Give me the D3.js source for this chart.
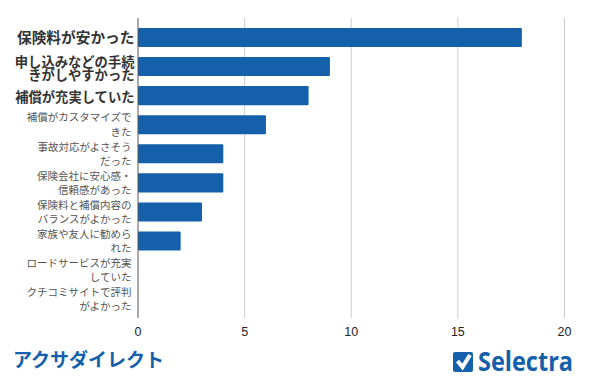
<!DOCTYPE html>
<html>
<head>
<meta charset="utf-8">
<script src="https://cdn.jsdelivr.net/npm/d3@7"></script>
<style>
  html, body { margin: 0; padding: 0; background: #fff; }
  text { font-family: "Liberation Sans", "Noto Sans CJK JP", sans-serif; }
  .tick-label { font-size: 12.5px; fill: #222; }
  .strong { font-weight: 700; fill: #333; font-size: 13.3px; }
  .biggest { font-size: 14.7px; }
  .normal { fill: #555; font-size: 10.5px; }
</style>
</head>
<body>
<div id="wrapper"></div>
<script>
// 1. Data
const categoryLines = [
  ["保険料が安かった"],
  ["申し込みなどの手続", "きがしやすかった"],
  ["補償が充実していた"],
  ["補償がカスタマイズで", "きた"],
  ["事故対応がよさそう", "だった"],
  ["保険会社に安心感・", "信頼感があった"],
  ["保険料と補償内容の", "バランスがよかった"],
  ["家族や友人に勧めら", "れた"],
  ["ロードサービスが充実", "していた"],
  ["クチコミサイトで評判", "がよかった"]
]
const counts = [18, 9, 8, 6, 4, 4, 3, 2, 0, 0]
const xTicks = [0, 5, 10, 15, 20]
const strongCount = 3
const title = "アクサダイレクト"
const brand = "Selectra"

// 2. Dimensions
const width = 590
const height = 380
const blue = "#1560ab"

const svg = d3.select("#wrapper").append("svg")
  .attr("width", width)
  .attr("height", height)
  .style("display", "block")

// 3. Scales
const xScale = d3.scaleLinear().domain([0, 20]).range([138, 564.5])
const yScale = d3.scaleBand()
  .domain(d3.range(categoryLines.length))
  .range([23, 313.7])
  .paddingInner(0.345)
  .paddingOuter(0.17)

// 4. Grid
svg.append("g").selectAll("line")
  .data(xTicks.slice(1))
  .join("line")
    .attr("x1", d => xScale(d))
    .attr("x2", d => xScale(d))
    .attr("y1", 18)
    .attr("y2", 318)
    .attr("stroke", "#cccccc")
    .attr("stroke-width", 1)

// 5. Bars
svg.append("g").selectAll("rect")
  .data(counts)
  .join("rect")
    .attr("x", xScale(0))
    .attr("y", (d, i) => yScale(i))
    .attr("width", d => xScale(d) - xScale(0))
    .attr("height", yScale.bandwidth())
    .attr("rx", d => d > 0 ? 1 : 0)
    .attr("fill", blue)

// baseline
svg.append("line")
  .attr("x1", xScale(0))
  .attr("x2", xScale(0))
  .attr("y1", 18)
  .attr("y2", 318)
  .attr("stroke", "#555")
  .attr("stroke-width", 1)

// 6. Peripherals
svg.append("g").selectAll("text")
  .data(xTicks)
  .join("text")
    .attr("class", "tick-label")
    .attr("x", d => xScale(d))
    .attr("y", 336)
    .attr("text-anchor", "middle")
    .text(d => d)

const labels = svg.append("g").selectAll("g")
  .data(categoryLines)
  .join("g")
    .attr("transform", (d, i) => `translate(${i < strongCount ? 134.5 : 131.5},${yScale(i) + yScale.bandwidth() / 2})`)

labels.selectAll("text")
  .data((d, i) => d.map((line, j) => ({ line, j, n: d.length, i, strong: i < strongCount })))
  .join("text")
    .attr("class", d => d.i === 0 ? "strong biggest" : d.strong ? "strong" : "normal")
    .attr("text-anchor", "end")
    .attr("y", d => d.strong
      ? (d.j - (d.n - 1) / 2) * 13 + (d.n > 1 ? 7 : 6)
      : (d.j - (d.n - 1) / 2) * 14.5 + 4)
    .text(d => d.line)

svg.append("text")
  .attr("x", 13)
  .attr("y", 367)
  .attr("font-size", 19)
  .attr("font-weight", 700)
  .attr("fill", blue)
  .text(title)

// logo
const logo = svg.append("g").attr("transform", "translate(453,352)")
logo.append("rect")
  .attr("width", 20)
  .attr("height", 20)
  .attr("rx", 2)
  .attr("fill", blue)
logo.append("path")
  .attr("d", "M4.5 9 L9.5 15 L17 3")
  .attr("fill", "none")
  .attr("stroke", "#fff")
  .attr("stroke-width", 4)
svg.append("text")
  .attr("x", 478)
  .attr("y", 371)
  .style("font-family", "'Open Sans', sans-serif")
  .attr("font-size", 26)
  .attr("font-weight", 700)
  .attr("fill", blue)
  .attr("textLength", 95)
  .attr("lengthAdjust", "spacingAndGlyphs")
  .text(brand)
</script>
</body>
</html>
